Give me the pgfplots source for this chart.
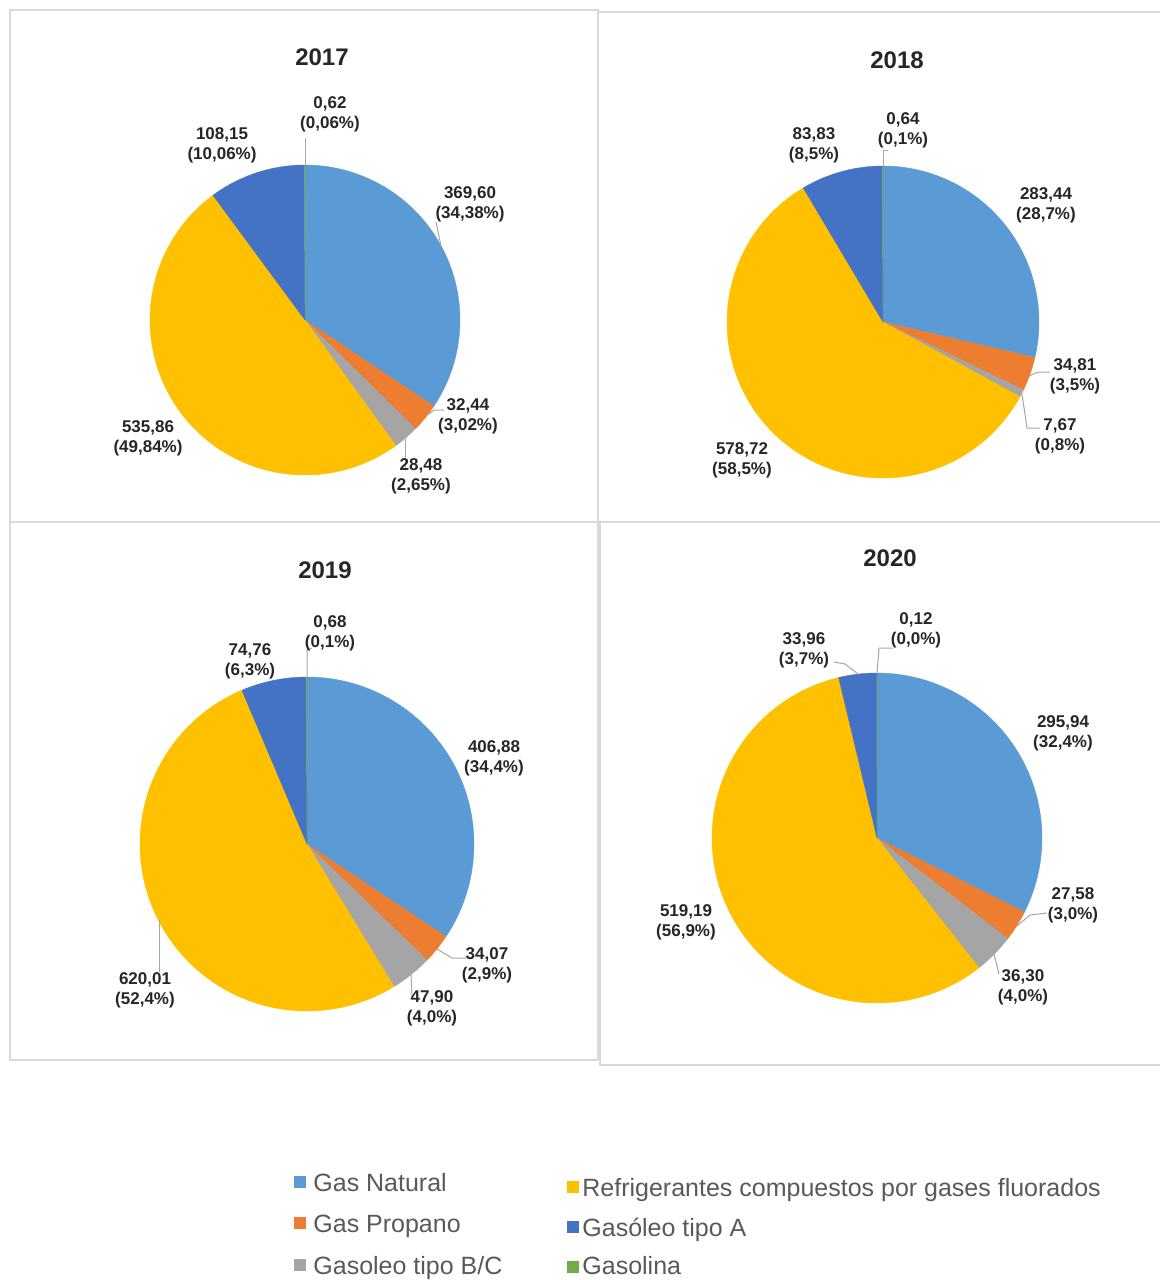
\documentclass[border=0pt]{standalone}
\usepackage{fontspec}
\setmainfont{Liberation Sans}
\usepackage{pgfplots}
\pgfplotsset{compat=1.18}
\definecolor{cGN}{HTML}{5B9BD5}
\definecolor{cGP}{HTML}{ED7D31}
\definecolor{cBC}{HTML}{A5A5A5}
\definecolor{cRF}{HTML}{FFC000}
\definecolor{cGA}{HTML}{4472C4}
\definecolor{cGL}{HTML}{70AD47}
\definecolor{boxc}{HTML}{D9D9D9}
\definecolor{ldc}{HTML}{A6A6A6}
\definecolor{labc}{HTML}{262626}
\definecolor{legc}{HTML}{595959}
\tikzset{
  lbl/.style={align=center, font=\fontsize{8.5}{10}\selectfont\bfseries, text=labc, inner sep=0pt},
  ttl/.style={font=\fontsize{12}{14}\selectfont\bfseries, text=labc, inner sep=0pt},
  leg/.style={anchor=base west, font=\fontsize{12.5}{15}\selectfont, text=legc, inner sep=0pt},
}
\newcommand{\pieslice}[6]{%
  \pgfmathtruncatemacro{\ns}{max(3,(#5-#4)/1.5+2)}%
  \edef\tmp{\noexpand\addplot[fill=#6, draw=#6, line width=0.2pt, domain=#4:#5, samples=\ns] ({#1+#3*sin(x)},{#2-#3*cos(x)}) -- (axis cs:#1,#2) -- cycle;}%
  \tmp
}
\newcommand{\pie}[9]{%
  \pgfmathsetmacro{\ptot}{#4+#5+#6+#7+#8+#9}%
  \pgfmathsetmacro{\aB}{((#4)/\ptot)*360}%
  \pgfmathsetmacro{\aC}{((#4+#5)/\ptot)*360}%
  \pgfmathsetmacro{\aD}{((#4+#5+#6)/\ptot)*360}%
  \pgfmathsetmacro{\aE}{((#4+#5+#6+#7)/\ptot)*360}%
  \pgfmathsetmacro{\aF}{((#4+#5+#6+#7+#8)/\ptot)*360}%
  \pieslice{#1}{#2}{#3}{0}{\aB}{cGN}%
  \pieslice{#1}{#2}{#3}{\aB}{\aC}{cGP}%
  \pieslice{#1}{#2}{#3}{\aC}{\aD}{cBC}%
  \pieslice{#1}{#2}{#3}{\aD}{\aE}{cRF}%
  \pieslice{#1}{#2}{#3}{\aE}{\aF}{cGA}%
  \pieslice{#1}{#2}{#3}{\aF}{360}{cGL}%
}
\begin{document}
\begin{tikzpicture}
\begin{axis}[x=0.5pt, y=0.5pt, xmin=0, xmax=1160, ymin=0, ymax=1280,
  y dir=reverse, hide axis, clip=false, scale only axis]
\addplot[draw=none] coordinates {(0,0) (1160,1280)};
% panel frames
\addplot[boxc, line width=0.9pt] coordinates {(10,522) (10,10) (598,10) (598,1060)};
\addplot[boxc, line width=0.9pt] coordinates {(598,12) (1160,12)};
\addplot[boxc, line width=0.9pt] coordinates {(10,522) (1160,522)};
\addplot[boxc, line width=0.9pt] coordinates {(10,522) (10,1060) (598,1060)};
\addplot[boxc, line width=0.9pt] coordinates {(600,522) (600,1065) (1160,1065)};

% ---- 2017 ----
\pie{305}{320}{155}{369.60}{32.44}{28.48}{535.86}{108.15}{0.62}
\node[ttl] at (axis cs:322,57) {2017};
\addplot[ldc, line width=0.5pt] coordinates {(305,165) (305,138)};
\addplot[ldc, line width=0.5pt] coordinates {(441,246) (436,222)};
\addplot[ldc, line width=0.5pt] coordinates {(426,416) (434,410) (444,410)};
\addplot[ldc, line width=0.5pt] coordinates {(405,439) (405,468) (409,468)};
\node[lbl] at (axis cs:330,114) {0,62\\(0,06\%)};
\node[lbl] at (axis cs:222,145) {108,15\\(10,06\%)};
\node[lbl] at (axis cs:470,204) {369,60\\(34,38\%)};
\node[lbl] at (axis cs:468,416) {32,44\\(3,02\%)};
\node[lbl] at (axis cs:421,476) {28,48\\(2,65\%)};
\node[lbl] at (axis cs:148,438) {535,86\\(49,84\%)};

% ---- 2018 ----
\pie{883}{322}{156}{283.44}{34.81}{7.67}{578.72}{83.83}{0.64}
\node[ttl] at (axis cs:897,60) {2018};
\addplot[ldc, line width=0.5pt] coordinates {(883,166) (883,150) (888,150)};
\addplot[ldc, line width=0.5pt] coordinates {(1029,376) (1038,372) (1050,372)};
\addplot[ldc, line width=0.5pt] coordinates {(1022,394) (1027,428) (1040,428)};
\node[lbl] at (axis cs:903,130) {0,64\\(0,1\%)};
\node[lbl] at (axis cs:814,145) {83,83\\(8,5\%)};
\node[lbl] at (axis cs:1046,205) {283,44\\(28,7\%)};
\node[lbl] at (axis cs:1075,376) {34,81\\(3,5\%)};
\node[lbl] at (axis cs:1060,436) {7,67\\(0,8\%)};
\node[lbl] at (axis cs:742,460) {578,72\\(58,5\%)};

% ---- 2019 ----
\pie{307}{844}{167}{406.88}{34.07}{47.90}{620.01}{74.76}{0.68}
\node[ttl] at (axis cs:325,570) {2019};
\addplot[ldc, line width=0.5pt] coordinates {(307,677) (307,650) (312,648)};
\addplot[ldc, line width=0.5pt] coordinates {(437,949) (452,958) (466,958)};
\addplot[ldc, line width=0.5pt] coordinates {(411,974) (412,996)};
\addplot[ldc, line width=0.5pt] coordinates {(159,920) (159,972)};
\node[lbl] at (axis cs:330,633) {0,68\\(0,1\%)};
\node[lbl] at (axis cs:250,661) {74,76\\(6,3\%)};
\node[lbl] at (axis cs:494,758) {406,88\\(34,4\%)};
\node[lbl] at (axis cs:487,965) {34,07\\(2,9\%)};
\node[lbl] at (axis cs:432,1008) {47,90\\(4,0\%)};
\node[lbl] at (axis cs:145,990) {620,01\\(52,4\%)};

% ---- 2020 ----
\pie{877}{838}{165}{295.94}{27.58}{36.30}{519.19}{33.96}{0.12}
\node[ttl] at (axis cs:890,558) {2020};
\addplot[ldc, line width=0.5pt] coordinates {(877,673) (879,648) (893,648)};
\addplot[ldc, line width=0.5pt] coordinates {(858,674) (845,664) (834,662)};
\addplot[ldc, line width=0.5pt] coordinates {(1017,926) (1030,915) (1047,913)};
\addplot[ldc, line width=0.5pt] coordinates {(994,954) (999,974)};
\node[lbl] at (axis cs:916,630) {0,12\\(0,0\%)};
\node[lbl] at (axis cs:804,650) {33,96\\(3,7\%)};
\node[lbl] at (axis cs:1063,733) {295,94\\(32,4\%)};
\node[lbl] at (axis cs:1073,905) {27,58\\(3,0\%)};
\node[lbl] at (axis cs:1023,987) {36,30\\(4,0\%)};
\node[lbl] at (axis cs:686,922) {519,19\\(56,9\%)};

% ---- legend ----
\addplot[only marks, mark=square*, mark size=2.6pt, cGN, mark options={draw=none}] coordinates {(300,1182)};
\addplot[only marks, mark=square*, mark size=2.6pt, cGP, mark options={draw=none}] coordinates {(300,1223)};
\addplot[only marks, mark=square*, mark size=2.6pt, cBC, mark options={draw=none}] coordinates {(300,1265)};
\addplot[only marks, mark=square*, mark size=2.6pt, cRF, mark options={draw=none}] coordinates {(573,1187)};
\addplot[only marks, mark=square*, mark size=2.6pt, cGA, mark options={draw=none}] coordinates {(573,1227)};
\addplot[only marks, mark=square*, mark size=2.6pt, cGL, mark options={draw=none}] coordinates {(573,1267)};
\node[leg] at (axis cs:313,1191) {Gas Natural};
\node[leg] at (axis cs:313,1232) {Gas Propano};
\node[leg] at (axis cs:313,1274) {Gasoleo tipo B/C};
\node[leg] at (axis cs:582,1196) {Refrigerantes compuestos por gases fluorados};
\node[leg] at (axis cs:582,1236) {Gasóleo tipo A};
\node[leg] at (axis cs:582,1274) {Gasolina};
\end{axis}
\end{tikzpicture}
\end{document}
